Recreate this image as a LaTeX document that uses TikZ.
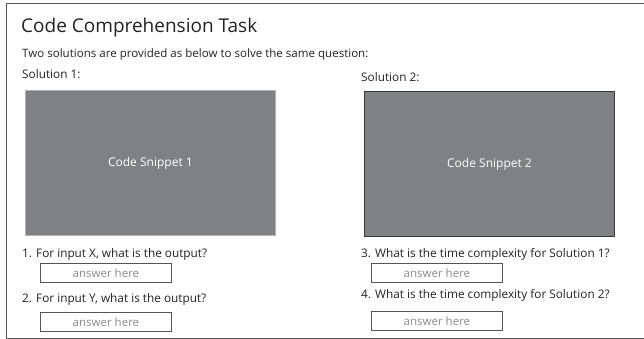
\documentclass[tikz,border=0pt]{standalone}
\usepackage{fontspec}
\setmainfont{Open Sans}
\definecolor{snip}{HTML}{808184}
\definecolor{txt}{HTML}{222222}
\definecolor{frame}{HTML}{555555}
\definecolor{ans}{HTML}{8A8A8A}
\begin{document}
\begin{tikzpicture}[x=1pt,y=-1pt,
  lbl/.style={anchor=base west,inner sep=0pt,text=txt,font=\fontsize{11.8}{14}\selectfont},
  ansbox/.style={draw=frame,line width=0.9pt,minimum width=131pt,minimum height=19pt,inner sep=0pt,anchor=north west,text=ans,font=\fontsize{11.5}{13}\selectfont},
  snipbox/.style={fill=snip,minimum width=250pt,minimum height=145pt,anchor=north west,inner sep=0pt,text=white,font=\fontsize{12}{14}\selectfont}]
\useasboundingbox (0,0) rectangle (644,339);
\draw[frame,line width=1pt] (6,4) rectangle (660,338);
\node[anchor=base west,inner sep=0pt,text=txt,font=\fontsize{19}{22}\selectfont] (title) at (21,33) {Code Comprehension Task};
\node[lbl,font=\fontsize{11.55}{14}\selectfont] (intro) at (22,58) {Two solutions are provided as below to solve the same question:};
\node[lbl] (sol1) at (22,79) {Solution 1:};
\node[lbl] (sol2) at (361,82) {Solution 2:};
\node[snipbox,draw=snip!60!white,line width=0.8pt] (code1) at (25,90) {Code Snippet 1};
\node[snipbox,draw=txt!90!white,line width=1pt] (code2) at (364,91) {Code Snippet 2};
\node[lbl] (q1) at (22,257) {1. For input X, what is the output?};
\node[ansbox] (a1) at (40,263) {answer here};
\node[lbl] (q2) at (22,302) {2. For input Y, what is the output?};
\node[ansbox] (a2) at (40,312) {answer here};
\node[lbl] (q3) at (361,257) {3. What is the time complexity for Solution 1?};
\node[ansbox] (a3) at (371,263) {answer here};
\node[lbl] (q4) at (361,298) {4. What is the time complexity for Solution 2?};
\node[ansbox] (a4) at (371,311) {answer here};
\end{tikzpicture}
\end{document}
